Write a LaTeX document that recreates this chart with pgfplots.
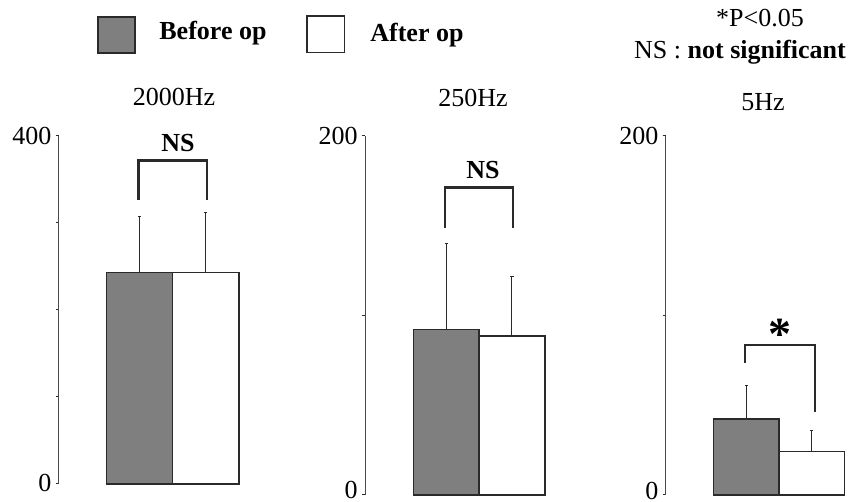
\documentclass[border=0pt]{standalone}
\usepackage{fontspec}
\setmainfont{Liberation Serif}
\usepackage{pgfplots}
\pgfplotsset{compat=1.18}
\definecolor{barfill}{HTML}{7F7F7F}
\definecolor{edge}{HTML}{2A2A2A}
\newcommand{\tf}{\fontsize{13}{15}\selectfont}
\pgfplotsset{panel/.style={
  scale only axis, axis y line=left, axis x line=none, ymin=0, xmax=2.6, clip=false,
  axis line style={draw=edge!85, line width=0.5pt, -},
  tick style={draw=edge, line width=0.5pt}, major tick length=1.5pt, tick align=outside,
  ybar, bar width=1,
  every tick label/.append style={font=\tf},
  /pgf/number format/assume math mode=true,
  yticklabel style={inner sep=2pt},
  error bars/y dir=plus, error bars/y explicit,
  error bars/error bar style={line width=0.5pt, edge},
  error bars/error mark options={rotate=90, mark size=0.8pt, line width=0.5pt, edge},
}}
\begin{document}
\begin{tikzpicture}[x=0.5pt,y=0.5pt]
\path[use as bounding box] (0,0) rectangle (857,502);
% legend
\draw[edge, line width=0.8pt, fill=barfill] (97.7,484.7) rectangle (135,448.7);
\node[anchor=base west, inner sep=0, font=\tf\bfseries] at (159,462) {Before op};
\draw[edge, line width=0.8pt, fill=white] (306.7,486) rectangle (344.3,449.3);
\node[anchor=base west, inner sep=0, font=\tf\bfseries] at (370,460.3) {After op};
\node[anchor=base, inner sep=0, font=\tf] at (760,475.3) {*P<0.05};
\node[anchor=base, inner sep=0, font=\tf] at (740,443.7) {NS : \textbf{not significant}};
% titles
\node[anchor=base, inner sep=0, font=\tf] at (174,396) {2000Hz};
\node[anchor=base, inner sep=0, font=\tf] at (473,395.3) {250Hz};
\node[anchor=base, inner sep=0, font=\tf] at (763,391.3) {5Hz};

% panel 1: 2000Hz
\begin{axis}[panel, at={(29.35pt,9pt)}, anchor=south west,
  width=93.4pt, height=174pt, xmin=-0.225, ymax=400,
  ytick={0,100,200,300,400}, yticklabels={\raisebox{1pt}{0}\hspace{4pt},,,,400}]
\addplot[fill=barfill, draw=edge, line width=0.7pt, bar shift=0pt] coordinates {(1,243) +- (0,64)};
\addplot[fill=white, draw=edge, line width=0.7pt, bar shift=0pt] coordinates {(2,243) +- (0,69)};
\draw[edge, line width=1.2pt] (axis cs:0.98,326) |- (axis cs:2.02,372) -- (axis cs:2.02,326);
\node[anchor=base, inner sep=0, font=\tf\bfseries] at (axis cs:1.58,382) {NS};
\end{axis}

% panel 2: 250Hz
\begin{axis}[panel, at={(182.5pt,3.5pt)}, anchor=south west,
  width=93.2pt, height=179.5pt, xmin=-0.234, ymax=200,
  ytick={0,100,200}, yticklabels={\raisebox{5pt}{0}\hspace{8pt},,200}]
\addplot[fill=barfill, draw=edge, line width=0.7pt, bar shift=0pt] coordinates {(1,92.3) +- (0,48)};
\addplot[fill=white, draw=edge, line width=0.7pt, bar shift=0pt] coordinates {(2,88.6) +- (0,33.4)};
\draw[edge, line width=1.2pt] (axis cs:0.98,148.6) |- (axis cs:2.02,171.2) -- (axis cs:2.02,148.6);
\node[anchor=base, inner sep=0, font=\tf\bfseries] at (axis cs:1.56,176.4) {NS};
\end{axis}

% panel 3: 5Hz
\begin{axis}[panel, at={(332.85pt,3.5pt)}, anchor=south west,
  width=92.7pt, height=179.5pt, xmin=-0.23, ymax=200,
  ytick={0,100,200}, yticklabels={\raisebox{4.5pt}{0}\hspace{4pt},,200}]
\addplot[fill=barfill, draw=edge, line width=0.7pt, bar shift=0pt] coordinates {(1,42.3) +- (0,18.6)};
\addplot[fill=white, draw=edge, line width=0.7pt, bar shift=0pt] coordinates {(2,24.1) +- (0,12.1)};
\draw[edge, line width=1.2pt] (axis cs:0.98,73.4) |- (axis cs:2.05,83.6) -- (axis cs:2.05,46.4);
\node[anchor=base, inner sep=0, font=\fontsize{23}{25}\selectfont\bfseries] at (axis cs:1.51,81) {*};
\end{axis}
\end{tikzpicture}
\end{document}
